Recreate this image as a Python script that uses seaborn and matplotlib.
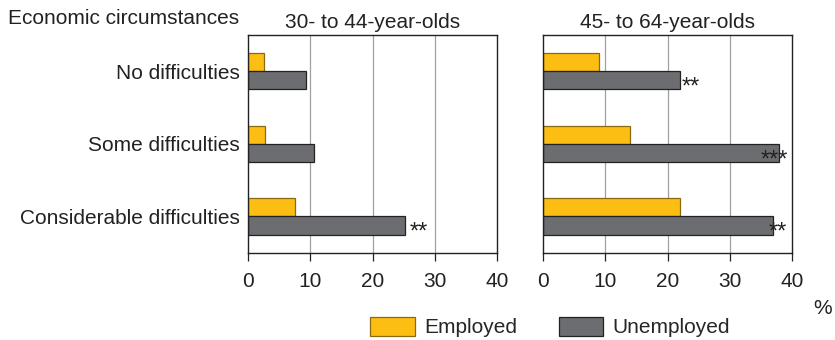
import matplotlib
matplotlib.use("Agg")
import matplotlib.pyplot as plt
import seaborn as sns
import pandas as pd
from matplotlib.patches import Patch

sns.set_theme(style="white")
plt.rcParams['font.family'] = ['Liberation Sans', 'DejaVu Sans']

categories = ["No difficulties", "Some difficulties", "Considerable difficulties"]
groups = ["Employed", "Unemployed"]
panel_titles = ["30- to 44-year-olds", "45- to 64-year-olds"]
employed_30_44 = [2.6, 2.8, 7.5]
unemployed_30_44 = [9.3, 10.6, 25.2]
employed_45_64 = [9.0, 14.0, 22.0]
unemployed_45_64 = [22.0, 37.9, 36.9]
# significance markers on unemployed bars: (category index, label, x position)
stars_30_44 = [(2, "**", 25.9)]
stars_45_64 = [(0, "**", 22.3), (1, "***", 35.0), (2, "**", 36.3)]
xticks = [0, 10, 20, 30, 40]

colors = {"Employed": "#FDBE14", "Unemployed": "#6C6D70"}
edges = {"Employed": "#8a6a10", "Unemployed": "#222222"}
FS = 15

def make_df(emp, unemp):
    rows = []
    for c, e, u in zip(categories, emp, unemp):
        rows.append({"cat": c, "group": "Employed", "val": e})
        rows.append({"cat": c, "group": "Unemployed", "val": u})
    return pd.DataFrame(rows)

fig = plt.figure(figsize=(8.35, 3.4), dpi=100)
axl = fig.add_axes([248/835, 1-252.7/340, 249/835, (252.7-35)/340])
axr = fig.add_axes([543/835, 1-252.7/340, 249/835, (252.7-35)/340])

data = [(axl, make_df(employed_30_44, unemployed_30_44), stars_30_44, panel_titles[0]),
        (axr, make_df(employed_45_64, unemployed_45_64), stars_45_64, panel_titles[1])]

for i, (ax, df, stars, title) in enumerate(data):
    ax.set_axisbelow(True)
    for t in xticks[1:-1]:
        ax.axvline(t, color="#a0a0a0", lw=0.9, zorder=0)
    sns.barplot(data=df, y="cat", x="val", hue="group", hue_order=groups,
                order=categories, palette=colors, orient="h", width=0.5,
                dodge=True, ax=ax, legend=False, saturation=1, gap=0)
    for bar_container, g in zip(ax.containers, groups):
        for p in bar_container:
            p.set_edgecolor(edges[g])
            p.set_linewidth(0.9)
    for ci, lab, xpos in stars:
        ax.text(xpos, ci + 0.125 + 0.1, lab, ha="left", va="center",
                fontsize=17, color="#222222")
    ax.set_xlim(0, 40)
    ax.set_ylim(2.5, -0.5)
    ax.set_xticks(xticks)
    ax.set_xticklabels([str(t) for t in xticks], fontsize=FS, color="#222222")
    ax.tick_params(axis="x", direction="out", length=6, width=0.9, color="#222222",
                   bottom=True, pad=8)
    ax.set_xlabel("")
    ax.set_ylabel("")
    for s in ax.spines.values():
        s.set_color("#222222")
        s.set_linewidth(1.0)
    ax.set_title(title, fontsize=15, color="#222222", pad=5)
    if i == 0:
        ax.set_yticks(range(len(categories)))
        ax.set_yticklabels(categories, fontsize=FS, color="#222222")
        ax.tick_params(axis="y", length=0, pad=6)
    else:
        ax.set_yticks([])

fig.text(8/835, 1-19/340, "Economic circumstances", fontsize=FS, color="#222222",
         ha="left", va="center")
fig.text(823/835, 1-308/340, "%", fontsize=FS, color="#222222", ha="center", va="center")

handles = [Patch(facecolor=colors[g], edgecolor=edges[g], linewidth=0.9, label=g) for g in groups]
fig.legend(handles=handles, loc="center", bbox_to_anchor=(550/835, 1-327/340), ncol=2,
           frameon=False, fontsize=FS, handlelength=2.15, handleheight=1.05,
           columnspacing=2.0, handletextpad=0.45, borderpad=0.2)

fig.savefig("out.png", dpi=100)
